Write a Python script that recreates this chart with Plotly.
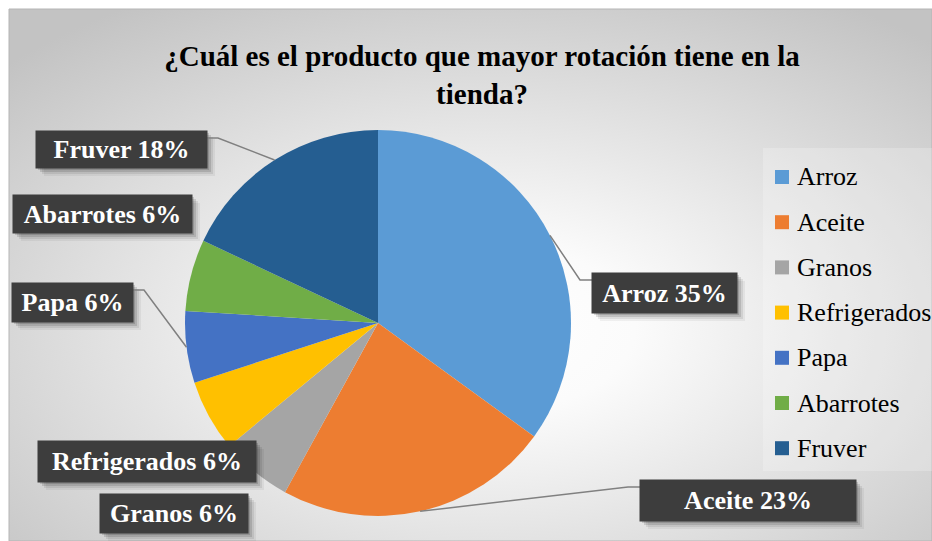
import base64
import math
import plotly.graph_objects as go

# ---- data ----
categories = ["Arroz", "Aceite", "Granos", "Refrigerados", "Papa", "Abarrotes", "Fruver"]
values = [35, 23, 6, 6, 6, 6, 18]
colors = ["#5B9BD5", "#ED7D31", "#A5A5A5", "#FFC000", "#4472C4", "#70AD47", "#255E91"]
title_text = "¿Cuál es el producto que mayor rotación tiene en la<br>tienda?"

W, H = 932, 541
SERIF = "Liberation Serif"


def X(px):
    return px / W


def Y(py):
    return 1 - py / H


# pie geometry (pixels)
CX, CY, R = 378, 323, 193

fig = go.Figure()
fig.add_trace(go.Pie(
    labels=categories,
    values=values,
    marker=dict(colors=colors, line=dict(width=0)),
    sort=False,
    direction="clockwise",
    rotation=0,
    textinfo="none",
    hoverinfo="label+percent",
    showlegend=False,
    domain=dict(x=[X(CX - R), X(CX + R)], y=[Y(CY + R), Y(CY - R)]),
))

# soft radial background
svg = (
    '<svg xmlns="http://www.w3.org/2000/svg" width="923" height="532">'
    '<defs><radialGradient id="g" cx="0.52" cy="0.6" r="0.72">'
    '<stop offset="0" stop-color="#ffffff"/>'
    '<stop offset="0.22" stop-color="#fbfbfb"/>'
    '<stop offset="1" stop-color="#c3c3c3"/>'
    '</radialGradient></defs>'
    '<rect width="100%" height="100%" fill="url(#g)"/></svg>'
)
bg_uri = "data:image/svg+xml;base64," + base64.b64encode(svg.encode()).decode()

shapes = []
annotations = []

# chart area outline
shapes.append(dict(type="rect", xref="paper", yref="paper",
                   x0=X(9), x1=X(932), y0=Y(541), y1=Y(9),
                   line=dict(color="#b5b5b5", width=1), fillcolor="rgba(0,0,0,0)",
                   layer="below"))

# data labels: box placement (pixel centre, width, height) and whether a leader is drawn
label_boxes = {
    "Arroz": (664.5, 293, 145, 40, True),
    "Aceite": (748, 500.5, 216, 41, True),
    "Granos": (174, 513.5, 148, 39, False),
    "Refrigerados": (147, 461.5, 218, 41, False),
    "Papa": (72.5, 302.5, 121, 39, True),
    "Abarrotes": (102.5, 214, 179, 38, False),
    "Fruver": (121.5, 149.5, 171, 37, True),
}

total = sum(values)
cum = 0
for cat, val in zip(categories, values):
    mid = (cum + val / 2) / total
    cum += val
    theta = 2 * math.pi * mid
    ex = CX + R * math.sin(theta)
    ey = CY - R * math.cos(theta)
    bx, by, bw, bh, leader = label_boxes[cat]
    x0, x1 = bx - bw / 2, bx + bw / 2
    y0, y1 = by - bh / 2, by + bh / 2

    # drop shadow
    for off, a in [(2, 0.14), (4, 0.12), (6, 0.08), (8, 0.05)]:
        shapes.append(dict(type="rect", xref="paper", yref="paper",
                           x0=X(x0 + off), x1=X(x1 + off), y0=Y(y1 + off), y1=Y(y0 + off),
                           line=dict(width=0), fillcolor=f"rgba(0,0,0,{a})", layer="above"))

    if leader:
        ay = y0 + 7
        if bx > CX:
            ax, kx = x0, x0 - 12
        else:
            ax, kx = x1, x1 + 11
        path = f"M{X(ax)},{Y(ay)} L{X(kx)},{Y(ay)} L{X(ex)},{Y(ey)}"
        shapes.append(dict(type="path", xref="paper", yref="paper", path=path,
                           line=dict(color="#808080", width=1.5), layer="above"))

    pct = round(100 * val / total)
    annotations.append(dict(
        xref="paper", yref="paper", x=X(bx), y=Y(by),
        xanchor="center", yanchor="middle",
        text=f"<b>{cat} {pct}%</b>", showarrow=False,
        font=dict(family=SERIF, size=26, color="#ffffff"),
        bgcolor="#3d3d3d", borderpad=0, width=bw, height=bh,
        align="center", valign="middle",
    ))

# legend panel
shapes.append(dict(type="rect", xref="paper", yref="paper",
                   x0=X(763), x1=X(932), y0=Y(471), y1=Y(148),
                   line=dict(width=0), fillcolor="rgba(255,255,255,0.22)", layer="below"))
for i, (cat, col) in enumerate(zip(categories, colors)):
    ry = 177 + i * 45.2
    shapes.append(dict(type="rect", xref="paper", yref="paper",
                       x0=X(775), x1=X(789), y0=Y(ry + 7), y1=Y(ry - 7),
                       line=dict(width=0), fillcolor=col, layer="above"))
    annotations.append(dict(
        xref="paper", yref="paper", x=X(795), y=Y(ry),
        xanchor="left", yanchor="middle", text=cat, showarrow=False,
        font=dict(family=SERIF, size=26, color="#000000"),
    ))

fig.update_layout(
    width=W, height=H,
    margin=dict(l=0, r=0, t=0, b=0),
    paper_bgcolor="#ffffff",
    plot_bgcolor="rgba(0,0,0,0)",
    showlegend=False,
    font=dict(family=SERIF),
    title=dict(text=f"<b>{title_text}</b>", x=X(482), y=Y(66),
               xanchor="center", yanchor="middle",
               font=dict(family=SERIF, size=29, color="#000000")),
    images=[dict(source=bg_uri, xref="paper", yref="paper",
                 x=X(9), y=Y(9), sizex=X(932) - X(9), sizey=Y(9) - Y(541),
                 xanchor="left", yanchor="top", sizing="stretch", layer="below")],
    shapes=shapes,
    annotations=annotations,
)

fig.write_html("out.html")
